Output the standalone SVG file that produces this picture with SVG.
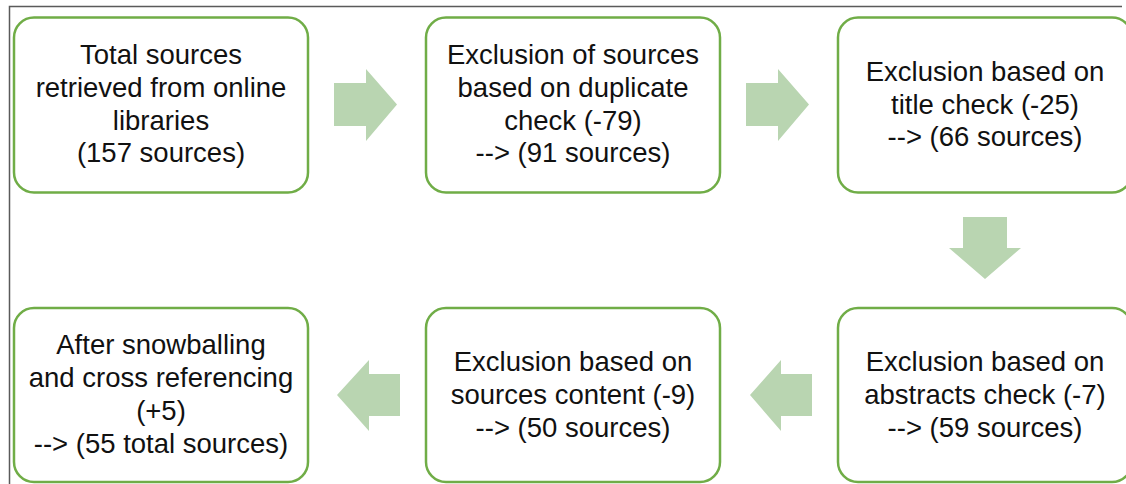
<svg xmlns="http://www.w3.org/2000/svg" width="1126" height="484" viewBox="0 0 1126 484">
<style>
.box{fill:#ffffff;stroke:#70ad47;stroke-width:2.5}
.arrow{fill:#b9d5b1}
text{font-family:"Liberation Sans",Arial,sans-serif;font-size:27.5px;fill:#111;text-anchor:middle}
</style>
<rect x="0" y="0" width="1126" height="484" fill="#ffffff"/>
<path d="M9.5 484 V6.5 H1122" fill="none" stroke="#5a5a5a" stroke-width="1.5"/>
<g id="connectors">
<polygon class="arrow" points="334,83 366,83 366,69 397,104.5 366,141 366,126 334,126"/>
<polygon class="arrow" points="746,83 778,83 778,69 809,104.5 778,141 778,126 746,126"/>
<polygon class="arrow" points="963,217 1007,217 1007,248 1021,248 985,279 949,248 963,248"/>
<polygon class="arrow" points="812,374 781,374 781,360 750,395 781,431 781,416 812,416"/>
<polygon class="arrow" points="400,374 369,374 369,360 337,395 369,431 369,416 400,416"/>
</g>
<g id="node1">
<rect class="box" x="14" y="17.5" width="294" height="175" rx="20"/>
<text x="161" y="64">Total sources</text>
<text x="161" y="97">retrieved from online</text>
<text x="161" y="130">libraries</text>
<text x="161" y="162">(157 sources)</text>
</g>
<g id="node2">
<rect class="box" x="426" y="17.5" width="294" height="175" rx="20"/>
<text x="573" y="64">Exclusion of sources</text>
<text x="573" y="97">based on duplicate</text>
<text x="573" y="130">check (-79)</text>
<text x="573" y="162">--&gt; (91 sources)</text>
</g>
<g id="node3">
<rect class="box" x="838" y="17.5" width="294" height="175" rx="20"/>
<text x="985" y="81">Exclusion based on</text>
<text x="985" y="114">title check (-25)</text>
<text x="985" y="146">--&gt; (66 sources)</text>
</g>
<g id="node4">
<rect class="box" x="838" y="308" width="294" height="174" rx="20"/>
<text x="985" y="371">Exclusion based on</text>
<text x="985" y="404">abstracts check (-7)</text>
<text x="985" y="437">--&gt; (59 sources)</text>
</g>
<g id="node5">
<rect class="box" x="426" y="308" width="294" height="174" rx="20"/>
<text x="573" y="371">Exclusion based on</text>
<text x="573" y="404">sources content (-9)</text>
<text x="573" y="437">--&gt; (50 sources)</text>
</g>
<g id="node6">
<rect class="box" x="14" y="308" width="294" height="174" rx="20"/>
<text x="161" y="354">After snowballing</text>
<text x="161" y="387">and cross referencing</text>
<text x="161" y="420">(+5)</text>
<text x="161" y="453">--&gt; (55 total sources)</text>
</g>
</svg>
